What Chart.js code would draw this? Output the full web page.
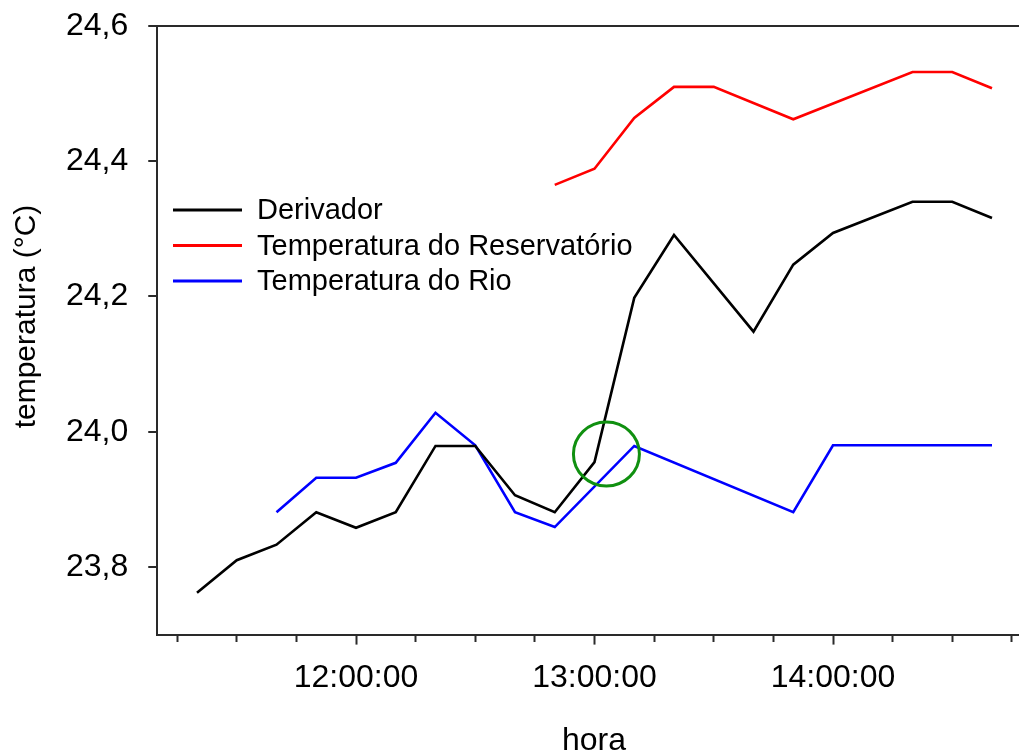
<!DOCTYPE html>
<html>
<head>
<meta charset="utf-8">
<script src="https://cdn.jsdelivr.net/npm/chart.js@4/dist/chart.umd.min.js"></script>
<style>
  html, body { margin: 0; padding: 0; background: #fff; }
  #wrap { width: 1019px; height: 753px; overflow: hidden; position: relative; }
  canvas { display: block; }
</style>
</head>
<body>
<div id="wrap"><canvas id="c" width="1040" height="753"></canvas></div>
<script>
// Temperatures (°C) logged through the afternoon, times as hh:mm
const timesDerivador = ['11:20','11:30','11:40','11:50','12:00','12:10','12:20','12:30','12:40','12:50','13:00','13:10','13:20','13:40','13:50','14:00','14:20','14:30','14:40'];
const tempDerivador  = [23.762, 23.810, 23.833, 23.881, 23.858, 23.881, 23.979, 23.979, 23.906, 23.881, 23.955, 24.198, 24.291, 24.148, 24.247, 24.294, 24.340, 24.340, 24.316];

const timesReservatorio = ['12:50','13:00','13:10','13:20','13:30','13:50','14:20','14:30','14:40'];
const tempReservatorio  = [24.365, 24.389, 24.464, 24.510, 24.510, 24.462, 24.532, 24.532, 24.508];

const timesRio = ['11:40','11:50','12:00','12:10','12:20','12:30','12:40','12:50','13:10','13:50','14:00','14:40'];
const tempRio  = [23.881, 23.932, 23.932, 23.954, 24.028, 23.980, 23.881, 23.859, 23.979, 23.881, 23.980, 23.980];

const seriesLabels = ['Derivador', 'Temperatura do Reservatório', 'Temperatura do Rio'];
const yTickValues = [23.8, 24.0, 24.2, 24.4, 24.6];
const xTickTimes = ['11:15','11:30','11:45','12:00','12:15','12:30','12:45','13:00','13:15','13:30','13:45','14:00','14:15','14:30','14:45'];
const xRange = ['11:10', '14:50'];
const yRange = [23.7, 24.6];

// Highlighted crossing point
const markTime = '13:03';
const markTemp = 23.967;

const toMin = s => { const [h, m] = s.split(':').map(Number); return h * 60 + m; };
const pts = (times, vals) => times.map((t, i) => ({ x: toMin(t), y: vals[i] }));
const fmtTime = v => { const h = Math.floor(v / 60), m = v % 60; return String(h).padStart(2,'0') + ':' + String(m).padStart(2,'0') + ':00'; };

const FONT = '"Liberation Sans", Arial, sans-serif';
const AXIS = '#2a2a2a';

const legendInside = {
  id: 'legendInside',
  afterDraw(chart) {
    const ctx = chart.ctx;
    ctx.save();
    ctx.font = '29px ' + FONT;
    ctx.textBaseline = 'middle';
    ctx.textAlign = 'left';
    const rows = [210, 245.5, 281];
    chart.data.datasets.forEach((ds, i) => {
      const y = rows[i];
      ctx.strokeStyle = ds.borderColor;
      ctx.lineWidth = 3;
      ctx.beginPath();
      ctx.moveTo(173, y);
      ctx.lineTo(242, y);
      ctx.stroke();
      ctx.fillStyle = '#000';
      ctx.fillText(ds.label, 257, y + 1);
    });
    ctx.restore();
  }
};

const axisTitles = {
  id: 'axisTitles',
  afterDraw(chart) {
    const ctx = chart.ctx;
    ctx.save();
    ctx.fillStyle = '#000';
    ctx.textAlign = 'center';
    ctx.textBaseline = 'alphabetic';
    ctx.font = '32px ' + FONT;
    ctx.fillText('hora', 594, 750);
    ctx.translate(35, 316.5);
    ctx.rotate(-Math.PI / 2);
    ctx.font = '30px ' + FONT;
    ctx.fillText('temperatura (°C)', 0, 0);
    ctx.restore();
  }
};

const circleMark = {
  id: 'circleMark',
  afterDatasetsDraw(chart) {
    const { ctx, scales } = chart;
    const x = scales.x.getPixelForValue(toMin(markTime));
    const y = scales.y.getPixelForValue(markTemp);
    ctx.save();
    ctx.strokeStyle = '#109010';
    ctx.lineWidth = 3;
    ctx.beginPath();
    ctx.ellipse(x, y, 33, 32, 0, 0, Math.PI * 2);
    ctx.stroke();
    ctx.restore();
  }
};

const mk = (label, times, vals, color) => ({
  label, data: pts(times, vals), borderColor: color, backgroundColor: color,
  borderWidth: 2.6, pointRadius: 0, tension: 0, fill: false
});

new Chart(document.getElementById('c'), {
  type: 'line',
  data: {
    datasets: [
      mk(seriesLabels[0], timesDerivador, tempDerivador, '#000000'),
      mk(seriesLabels[1], timesReservatorio, tempReservatorio, '#ff0000'),
      mk(seriesLabels[2], timesRio, tempRio, '#0000ff')
    ]
  },
  options: {
    responsive: false,
    animation: false,
    devicePixelRatio: 1,
    layout: { padding: { left: 0, top: 26, right: 8.25, bottom: 0 } },
    plugins: { legend: { display: false }, tooltip: { enabled: false } },
    scales: {
      x: {
        type: 'linear',
        min: toMin(xRange[0]),
        max: toMin(xRange[1]),
        afterBuildTicks: s => { s.ticks = xTickTimes.map(t => ({ value: toMin(t) })); },
        afterFit: s => { s.height = 753 - 634.6; s.paddingLeft = 0; s.paddingRight = 0; },
        ticks: {
          autoSkip: false,
          maxRotation: 0,
          padding: 14,
          color: '#000',
          font: { family: FONT, size: 32 },
          callback: v => (v % 60 === 0 ? fmtTime(v) : '')
        },
        grid: {
          drawOnChartArea: false,
          tickLength: 10,
          tickWidth: 2,
          tickColor: AXIS,
          tickBorderDash: c => (c.tick && c.tick.value % 60 === 0 ? [] : [6, 30])
        },
        border: { color: AXIS, width: 2 }
      },
      y: {
        min: yRange[0],
        max: yRange[1],
        afterBuildTicks: s => { s.ticks = yTickValues.map(v => ({ value: v })); },
        afterFit: s => { s.width = 157.25; s.paddingTop = 0; s.paddingBottom = 0; },
        ticks: {
          padding: 20,
          color: '#000',
          font: { family: FONT, size: 32 },
          callback: v => v.toFixed(1).replace('.', ',')
        },
        grid: {
          drawOnChartArea: true,
          lineWidth: 2,
          color: c => (c.tick && Math.abs(c.tick.value - yRange[1]) < 1e-9 ? AXIS : 'rgba(0,0,0,0)'),
          tickLength: 9,
          tickWidth: 2,
          tickColor: AXIS
        },
        border: { color: AXIS, width: 2 }
      }
    }
  },
  plugins: [circleMark, legendInside, axisTitles]
});
</script>
</body>
</html>
